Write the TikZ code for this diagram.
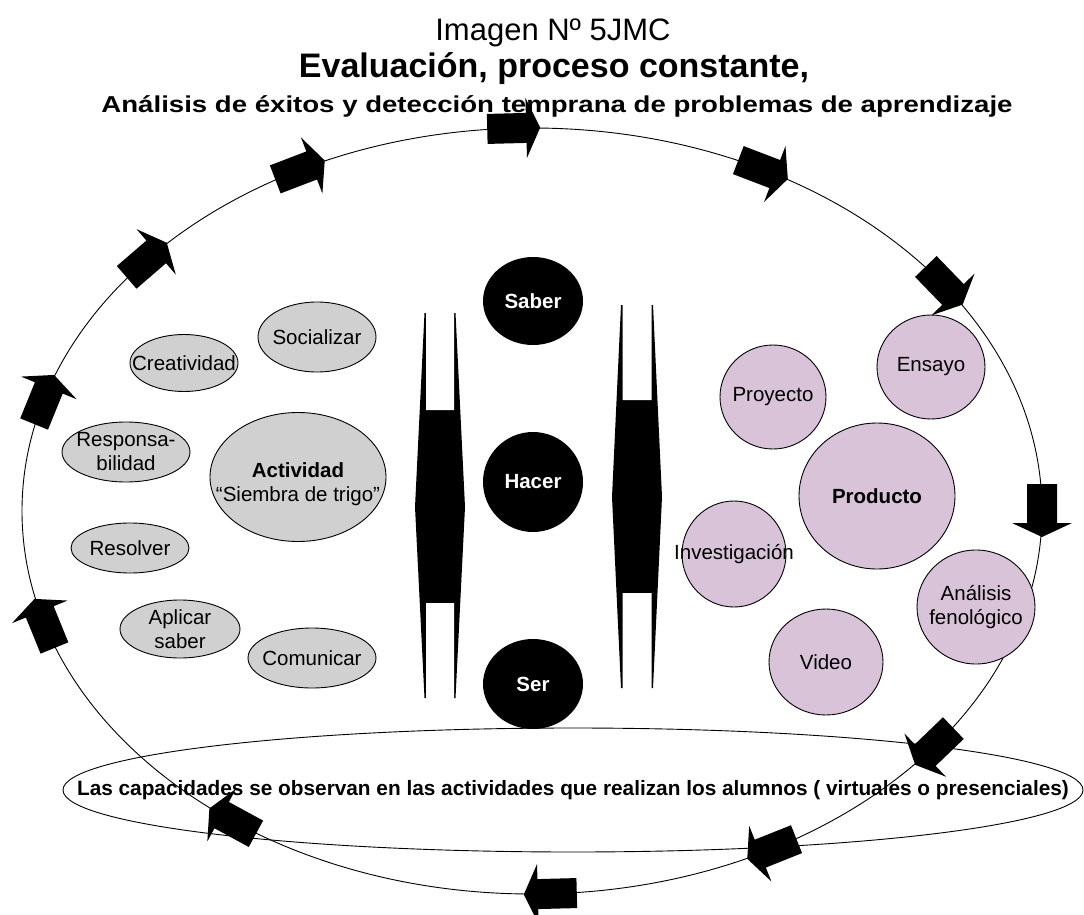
\documentclass[tikz,border=0pt]{standalone}
\usepackage{graphicx}
\usepackage{fontspec}
\setmainfont{Liberation Sans}
\usetikzlibrary{shapes.geometric,positioning}

\definecolor{gris}{RGB}{208,208,208}
\definecolor{lila}{RGB}{217,195,217}

\tikzset{
  capac/.style={ellipse,draw,fill=gris,inner sep=0pt},
  prod/.style={ellipse,draw,fill=lila,inner sep=0pt},
  eje/.style={ellipse,fill=black,inner sep=0pt,minimum width=100pt},
  every label/.style={align=center},
  flecha/.pic={\fill (-27,-15) -- (12,-15) -- (12,-30) -- (26,0) -- (12,30) -- (12,15) -- (-27,15) -- cycle;}
}

\begin{document}
\fontsize{20.5}{24}\selectfont
\begin{tikzpicture}[x=1pt,y=-1pt,line width=0.9pt,on grid]
   \useasboundingbox (0,0) rectangle (1084,915);
   % titulos
   \node[anchor=base] (imagen) at (553,41) {\fontsize{31}{36}\selectfont Imagen Nº 5JMC};
   \node[anchor=base,font=\bfseries] (titulo) at (554,78) {\fontsize{34}{40}\selectfont Evaluación, proceso constante,};
   \node[anchor=base,font=\bfseries] (subtit) at (557,113) {\fontsize{23}{28}\selectfont\scalebox{1.2}[1]{Análisis de éxitos y detección temprana de problemas de aprendizaje}};
   % ciclo
   \draw (532,511) ellipse [x radius=510, y radius=383];
   \node[ellipse,draw,inner sep=0pt,minimum width=1020pt,minimum height=124pt,
     label={[font=\bfseries\fontsize{20.8}{24}\selectfont]center:Las capacidades se observan en las actividades que realizan los alumnos ( virtuales o presenciales)}] (obs) at (573,790) {};
   % capacidades
   \node[capac,minimum width=118pt,minimum height=70pt,label=center:Socializar] (social) at (317,337) {};
   \node[capac,minimum width=108pt,minimum height=57pt,label=center:Creatividad] (creat) at (184,363) {};
   \node[capac,minimum width=128pt,minimum height=60pt,label={center:Responsa-\\bilidad}] (resp) at (126,452) {};
   \node[capac,minimum width=176pt,minimum height=129pt,label={[yshift=-7pt]center:\textbf{Actividad}\\“Siembra de trigo”}] (activ) at (298,477) {};
   \node[capac,minimum width=118pt,minimum height=50pt,label=center:Resolver] (resol) at (130,548) {};
   \node[capac,minimum width=120pt,minimum height=58pt,label={center:Aplicar\\saber}] (aplic) at (180,629) {};
   \node[capac,minimum width=128pt,minimum height=60pt,label=center:Comunicar] (comun) at (312,658) {};
   % productos
   \node[prod,minimum width=108pt,minimum height=104pt,label=center:Ensayo] (ensayo) at (931,367) {};
   \node[prod,minimum width=106pt,minimum height=104pt,label=center:Proyecto] (proyec) at (773,397) {};
   \node[prod,minimum width=156pt,minimum height=146pt,label=center:\textbf{Producto}] (product) at (877,496) {};
   \node[prod,minimum width=104pt,minimum height=106pt,label=center:Investigación] (invest) at (734,554) {};
   \node[prod,minimum width=118pt,minimum height=114pt,label={center:Análisis\\fenológico}] (analis) at (976,607) {};
   \node[prod,minimum width=114pt,minimum height=106pt,label=center:Video] (video) at (826,662) {};
   % saber, hacer, ser
   \node[eje,minimum height=88pt,label={[text=white,font=\bfseries]center:Saber}] (saber) at (533,301) {};
   \node[eje,minimum height=100pt,label={[text=white,font=\bfseries]center:Hacer}] (hacer) [below=181pt of saber] {};
   \node[eje,minimum height=90pt,label={[text=white,font=\bfseries]center:Ser}] (ser) [below=202pt of hacer] {};
   % flechas dobles
   \fill (424.5,313) -- (455.5,313) -- (465,507) -- (455.5,698) -- (424.5,698) -- (415,507) -- cycle;
   \fill[white] (426,311) rectangle (454,410) (426,603) rectangle (454,700);
   \fill (621,305) -- (653,305) -- (662,497) -- (653,688) -- (621,688) -- (612,497) -- cycle;
   \fill[white] (622.5,303) rectangle (651.5,400) (622.5,593) rectangle (651.5,690);
   % flechas del ciclo
   \foreach \t in {197,163,139,117,92,63,36,0,-38,-62,-88,-126}{
     \pgfmathsetmacro\ang{atan2(-383*cos(\t),510*sin(\t))}
     \pic[rotate=\ang] at ({532+510*cos(\t)},{511-383*sin(\t)}) {flecha};
   }
\end{tikzpicture}
\end{document}
